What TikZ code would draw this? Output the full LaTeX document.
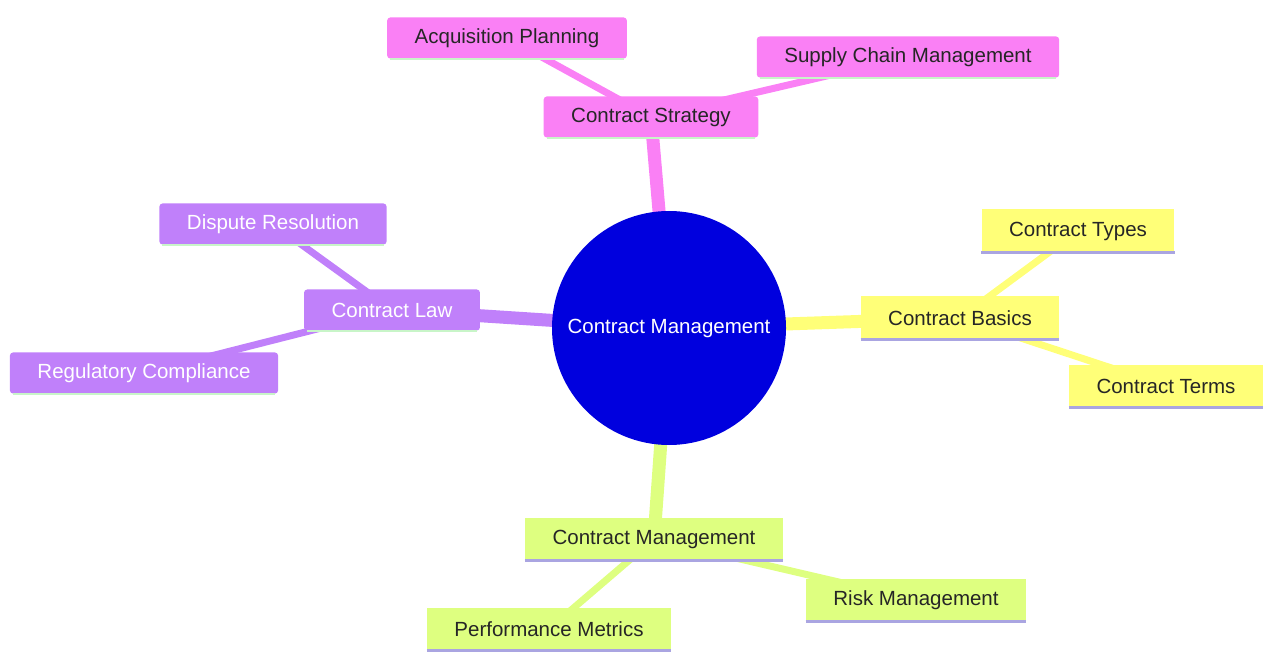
\documentclass[tikz,border=0pt]{standalone}
\usepackage{fontspec}
\setmainfont{Liberation Sans}
\usetikzlibrary{shapes,backgrounds}

\definecolor{pinkc}{RGB}{250,128,245}
\definecolor{purplec}{RGB}{192,128,250}
\definecolor{yellowc}{RGB}{255,255,120}
\definecolor{greenc}{RGB}{222,255,128}
\definecolor{bluec}{RGB}{0,0,222}
\definecolor{lavc}{RGB}{170,165,225}
\definecolor{mintc}{RGB}{200,245,200}

\tikzset{
	box/.style={shape=rectangle, minimum height=41pt, inner xsep=27.5pt, font=\fontsize{20.5}{24}\selectfont},
	pinkbox/.style={box, rounded corners=3pt, fill=pinkc, text=black!85},
	purplebox/.style={box, rounded corners=3pt, fill=purplec, text=white},
	yellowbox/.style={box, minimum height=43pt, fill=yellowc, text=black!85},
	greenbox/.style={box, minimum height=43pt, fill=greenc, text=black!85},
	mainedge/.style={line width=13pt},
	subedge/.style={line width=7pt}
}

\begin{document}
\begin{tikzpicture}[x=1pt, y=-1pt]

	\useasboundingbox (0,0) rectangle (1264,652);

	\draw (669,328) node[shape=circle, fill=bluec, text=white, minimum size=234pt, inner sep=0pt, font=\fontsize{20.5}{24}\selectfont](root){Contract Management};

	\draw (651,117) node[pinkbox](strat){Contract Strategy};
	\draw (507,38) node[pinkbox](acq){Acquisition Planning};
	\draw (908,57) node[pinkbox](supply){Supply Chain Management};

	\draw (392,310) node[purplebox](law){Contract Law};
	\draw (273,224) node[purplebox](dispute){Dispute Resolution};
	\draw (144,373) node[purplebox](reg){Regulatory Compliance};

	\draw (960,318) node[yellowbox](basics){Contract Basics};
	\draw (1078,231) node[yellowbox](types){Contract Types};
	\draw (1166,386) node[yellowbox](terms){Contract Terms};

	\draw (654,539) node[greenbox](mgmt){Contract Management};
	\draw (549,629) node[greenbox](perf){Performance Metrics};
	\draw (916,600) node[greenbox](risk){Risk Management};

	% connectors behind the boxes
	\begin{scope}[on background layer]
		\draw [mainedge, pinkc](root.center) -- (strat.center);
		\draw [mainedge, purplec](root.center) -- (law.center);
		\draw [mainedge, yellowc](root.center) -- (basics.center);
		\draw [mainedge, greenc](root.center) -- (mgmt.center);
		\draw [subedge, pinkc](strat.center) -- (acq.center);
		\draw [subedge, pinkc](strat.center) -- (supply.center);
		\draw [subedge, purplec](law.center) -- (dispute.center);
		\draw [subedge, purplec](law.center) -- (reg.center);
		\draw [subedge, yellowc](basics.center) -- (types.center);
		\draw [subedge, yellowc](basics.center) -- (terms.center);
		\draw [subedge, greenc](mgmt.center) -- (perf.center);
		\draw [subedge, greenc](mgmt.center) -- (risk.center);
	\end{scope}

	% bottom rims
	\foreach \n in {strat, acq, supply, law, dispute, reg}
		\draw [mintc, line width=2pt]([xshift=3pt]\n.south west) -- ([xshift=-3pt]\n.south east);
	\foreach \n in {basics, types, terms, mgmt, perf, risk}
		\draw [lavc, line width=3pt](\n.south west) -- (\n.south east);
\end{tikzpicture}
\end{document}
